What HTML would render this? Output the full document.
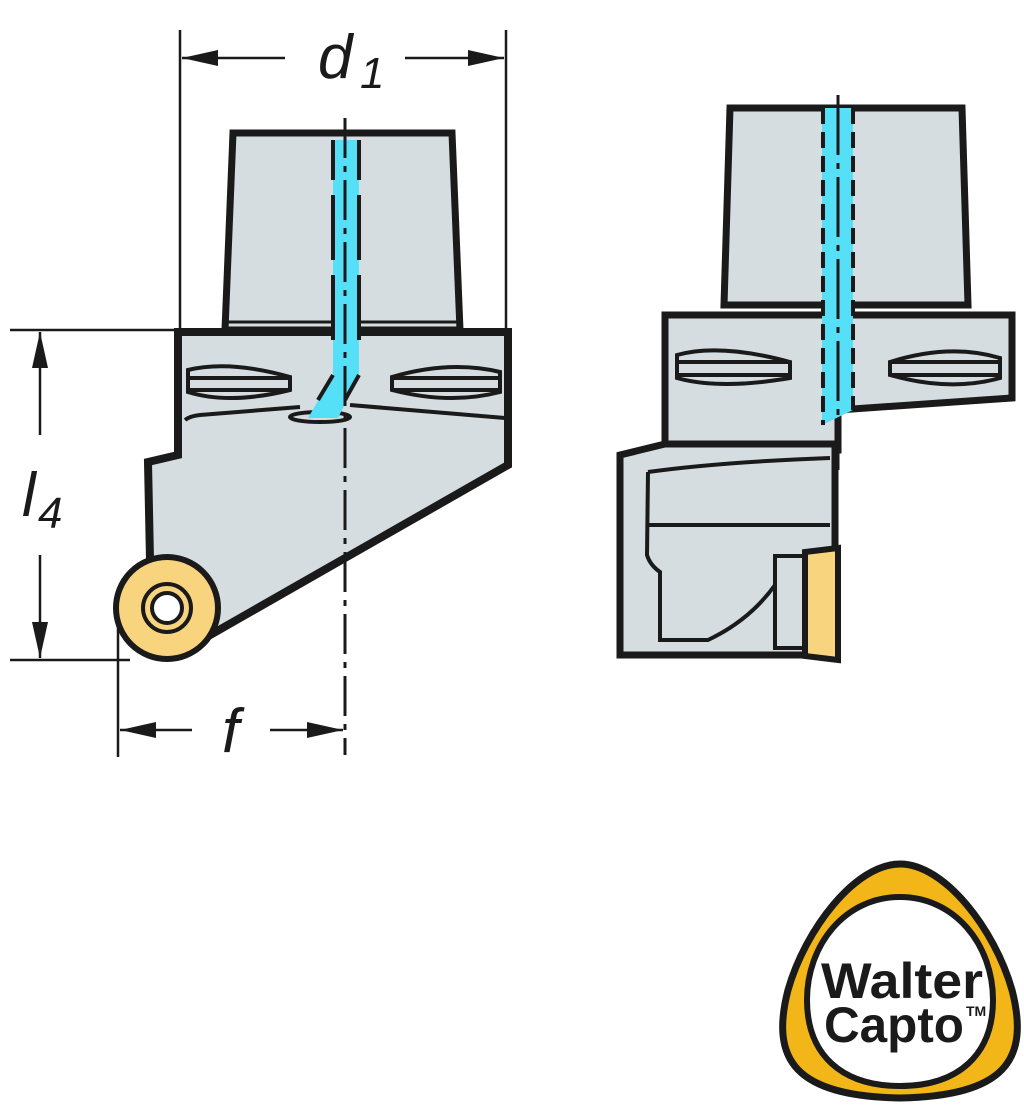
<!DOCTYPE html>
<html><head><style>html,body{margin:0;padding:0;background:#fff}svg{display:block}</style></head>
<body>
<svg width="1024" height="1106" viewBox="0 0 1024 1106" xmlns="http://www.w3.org/2000/svg">
<defs>
<marker id="ar" viewBox="0 0 36 16" refX="36" refY="8" markerWidth="36" markerHeight="16" orient="auto-start-reverse" markerUnits="userSpaceOnUse"><path d="M0,0 L36,8 L0,16z" fill="#1a1a1a"/></marker>
</defs>
<g stroke="#1a1a1a" stroke-linejoin="miter">
<!-- LEFT VIEW -->
<path d="M233,133 L452,133 L460,330 L225,330 Z" fill="#d5dde0" stroke-width="7"/>
<line x1="228" y1="322" x2="457" y2="322" stroke-width="3"/>
<path d="M178,332 L508,332 L508,465 L212,634 L150,560 L148,462 L178,455 Z" fill="#d5dde0" stroke-width="8"/>
<path d="M185,420 Q190,416 200,415 L300,407 M350,405 L505,418" fill="none" stroke-width="4"/>
<path d="M188,370 Q230,360 290,377 L290,390 Q230,405 188,392 Z M188,378 L290,378 M188,390 L290,390" fill="none" stroke-width="4"/>
<path d="M392,377 Q450,360 500,372 L500,392 Q450,405 392,390 Z M392,378 L500,378 M392,390 L500,390" fill="none" stroke-width="4"/>
<ellipse cx="320" cy="417" rx="30" ry="5" fill="none" stroke-width="4"/>
<path d="M333,140 L359,140 L359,375 L338,418 L308,418 L333,375 Z" fill="#55e0f8" stroke="none"/>
<path d="M333,140 V180 M333,195 V260 M333,275 V340 M359,140 V180 M359,195 V260 M359,275 V340 M333,375 L318,400 M359,375 L345,400" stroke-width="4" fill="none"/>
<line x1="345" y1="118" x2="345" y2="755" stroke-width="3" stroke-dasharray="40,8,6,8"/>
<circle cx="167" cy="608" r="51" fill="#f8d47e" stroke-width="6"/>
<circle cx="167" cy="608" r="24" fill="none" stroke-width="4"/>
<circle cx="167" cy="608" r="15" fill="#fff" stroke-width="4"/>
<!-- dimensions -->
<g stroke-width="2.5" fill="none">
<line x1="180" y1="30" x2="180" y2="330"/>
<line x1="506" y1="30" x2="506" y2="330"/>
<line x1="182" y1="58" x2="285" y2="58" marker-start="url(#ar)"/>
<line x1="405" y1="58" x2="504" y2="58" marker-end="url(#ar)"/>
<line x1="10" y1="330" x2="178" y2="330"/>
<line x1="10" y1="660" x2="130" y2="660"/>
<line x1="40" y1="332" x2="40" y2="435" marker-start="url(#ar)"/>
<line x1="40" y1="555" x2="40" y2="658" marker-end="url(#ar)"/>
<line x1="118" y1="625" x2="118" y2="757"/>
<line x1="120" y1="730" x2="192" y2="730" marker-start="url(#ar)"/>
<line x1="270" y1="730" x2="343" y2="730" marker-end="url(#ar)"/>
</g>
<!-- RIGHT VIEW -->
<path d="M730,108 L962,108 L968,305 L724,305 Z" fill="#d5dde0" stroke-width="7"/>
<line x1="728" y1="313" x2="965" y2="313" stroke-width="3"/>
<path d="M665,315 L1012,315 L1012,398 L838,410 L838,450 L665,450 Z" fill="#d5dde0" stroke-width="7"/>
<path d="M620,455 L665,444 L835,444 L835,655 L620,655 Z" fill="#d5dde0" stroke-width="7"/>
<path d="M648,472 Q720,462 830,458 M648,472 L647,555 Q650,565 660,572 L660,640 L708,640 Q750,620 775,585 M648,525 L830,525" fill="none" stroke-width="4"/>
<path d="M775,556 L805,556 L805,648 L775,648 Z" fill="none" stroke-width="4"/>
<path d="M805,552 L838,548 L838,660 L805,656 Z" fill="#f8d47e" stroke-width="6"/>
<path d="M677,355 Q720,343 790,362 L790,378 Q720,390 677,378 Z M677,362 L790,362 M677,375 L790,375" fill="none" stroke-width="4"/>
<path d="M890,362 Q950,343 1000,358 L1000,378 Q950,392 890,375 Z M890,362 L1000,362 M890,375 L1000,375" fill="none" stroke-width="4"/>
<path d="M822,108 L853,108 L853,410 L822,425 Z" fill="#55e0f8" stroke="none"/>
<path d="M823,108 V425 M853,108 V410" stroke-width="4" stroke-dasharray="16,8" fill="none"/>
<line x1="838" y1="95" x2="838" y2="470" stroke-width="3" stroke-dasharray="60,8,6,8"/>
<!-- LOGO -->
<path d="M900,864 C945,864 995,930 1012,990 C1030,1060 1005,1096 900,1098 C795,1096 770,1060 788,990 C805,930 855,864 900,864 Z" fill="#f2b619" stroke-width="7"/>
<path d="M900,897 C955,897 993,945 993,1000 C993,1055 958,1086 900,1086 C842,1086 807,1055 807,1000 C807,945 845,897 900,897 Z" fill="#fff" stroke-width="6"/>
</g>
<g fill="#1a1a1a" font-family="Liberation Sans, sans-serif">
<text x="318" y="78" font-size="62" font-style="italic">d</text>
<text x="360" y="88" font-size="44" font-style="italic">1</text>
<text x="22" y="516" font-size="62" font-style="italic">l</text>
<text x="38" y="528" font-size="44" font-style="italic">4</text>
<text x="222" y="752" font-size="62" font-style="italic">f</text>
<text x="902" y="998" font-size="50" font-weight="bold" text-anchor="middle" textLength="162" lengthAdjust="spacingAndGlyphs">Walter</text>
<text x="894" y="1042" font-size="50" font-weight="bold" text-anchor="middle" textLength="140" lengthAdjust="spacingAndGlyphs">Capto</text>
<text x="966" y="1016" font-size="14" font-weight="bold">TM</text>
</g>
</svg>
</body></html>
